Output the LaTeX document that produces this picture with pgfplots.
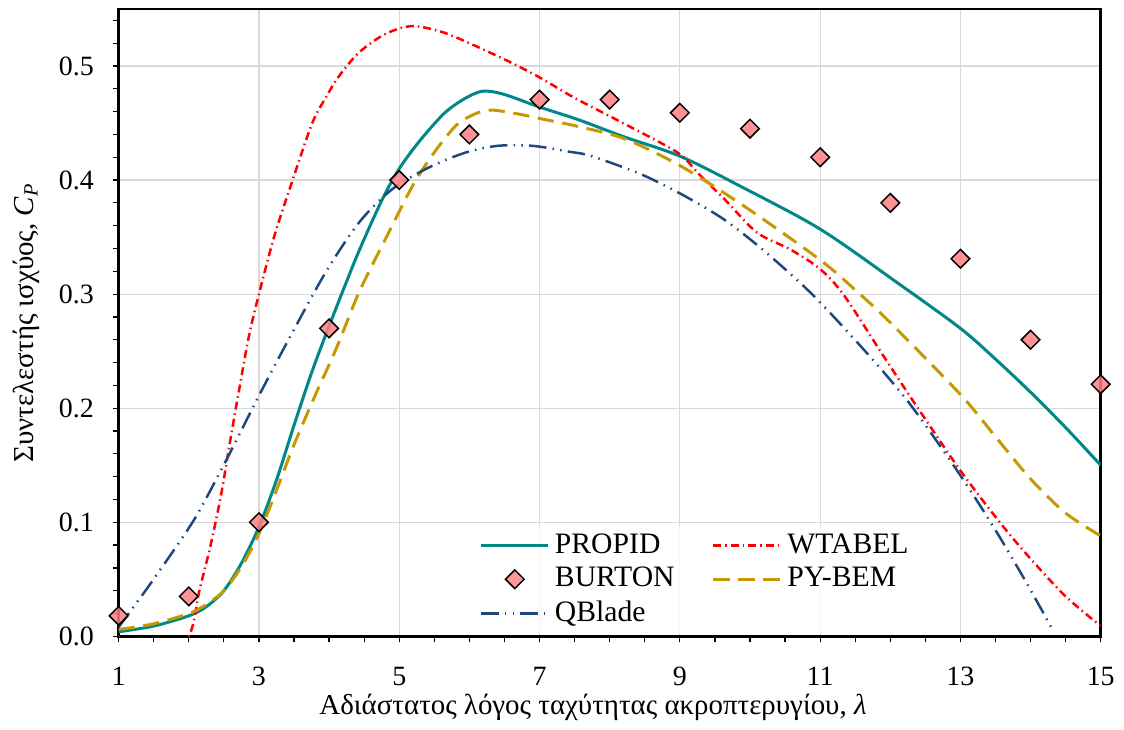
\documentclass[border=0pt]{standalone}
\usepackage{fontspec}
\setmainfont{Liberation Serif}
\usepackage{pgfplots}
\pgfplotsset{compat=1.18}
\definecolor{cteal}{RGB}{0,135,135}
\definecolor{cgold}{RGB}{199,152,0}
\definecolor{cblue}{RGB}{31,73,125}
\definecolor{cpink}{RGB}{255,128,128}
\definecolor{cgrid}{RGB}{217,217,217}
\begin{document}
\fontsize{11.2}{13.4}\selectfont
\begin{tikzpicture}
\begin{axis}[
  scale only axis, width=394pt, height=251.7pt,
  xmin=1, xmax=15, ymin=0, ymax=0.55,
  xtick={1,3,5,7,9,11,13,15},
  ytick={0,0.1,0.2,0.3,0.4,0.5},
  minor xtick={1.5,2,2.5,3.5,4,4.5,5.5,6,6.5,7.5,8,8.5,9.5,10,10.5,11.5,12,12.5,13.5,14,14.5},
  minor ytick={0.02,0.04,0.06,0.08,0.12,0.14,0.16,0.18,0.22,0.24,0.26,0.28,0.32,0.34,0.36,0.38,0.42,0.44,0.46,0.48,0.52,0.54},
  tick align=outside, xtick pos=bottom, ytick pos=left,
  major tick length=2.4pt, minor tick length=2.4pt,
  every tick/.style={black, line width=0.5pt},
  grid=major, major grid style={cgrid, line width=0.5pt},
  axis line style={black, line width=1pt},
  /pgf/number format/assume math mode=true,
  yticklabel style={/pgf/number format/.cd, fixed, fixed zerofill, precision=1, /tikz/.cd, xshift=-3.6pt},
  xticklabel style={yshift=-6pt},
  xlabel={Αδιάστατος λόγος ταχύτητας ακροπτερυγίου, \textit{λ}},
  ylabel={Συντελεστής ισχύος, \textit{C}\textsubscript{\textit{P}}},
  label style={font=\fontsize{11.6}{13.9}\selectfont},
  xlabel style={at={(axis description cs:0.483,-0.124)}, anchor=base},
  ylabel style={at={(axis description cs:-0.087,0.5)}, anchor=base},
  legend columns=2,
  legend cell align=left,
  legend style={at={(axis description cs:0.3645,0.004)}, anchor=south west,
    draw=none, fill=white, fill opacity=0.8, text opacity=1, inner sep=1pt,
    font=\fontsize{11.9}{14}\selectfont,
    /tikz/every even column/.append style={column sep=13pt}},
  legend image code/.code={\draw[mark repeat=2, mark phase=2, #1] plot coordinates {(0cm,0cm) (0.475cm,0cm) (0.95cm,0cm)};},
  clip=true,
]
\addlegendimage{cteal, line width=1.2pt}
\addlegendentry{PROPID}
\addlegendimage{red, line width=1pt, dash pattern=on 3.2pt off 1.6pt on 0.6pt off 1.6pt}
\addlegendentry{WTABEL}
\addlegendimage{only marks, mark=square*, mark size=2.64pt, mark options={rotate=45, fill=cpink, draw=black, line width=0.6pt}}
\addlegendentry{BURTON}
\addlegendimage{cgold, line width=1.2pt, dash pattern=on 6.5pt off 3.5pt}
\addlegendentry{PY-BEM}
\addlegendimage{cblue, line width=1pt, dash pattern=on 7pt off 2.5pt on 0.6pt off 2.5pt on 0.6pt off 2.5pt}
\addlegendentry{QBlade}

% PROPID
\addplot[forget plot, cteal, line width=1.2pt, smooth] coordinates {
(1,0.004)(1.5,0.009)(2,0.018)(2.25,0.026)(2.5,0.040)(2.75,0.064)(3,0.096)(3.25,0.137)(3.5,0.185)(3.75,0.231)(4,0.272)(4.4,0.334)(4.75,0.382)(5,0.410)(5.3,0.435)(5.65,0.459)(5.95,0.472)(6.2,0.478)(6.5,0.475)(7,0.464)(7.55,0.453)(8.2,0.438)(9,0.421)(9.85,0.395)(11,0.357)(12.1,0.31)(13,0.27)(13.5,0.243)(14,0.214)(14.5,0.183)(15,0.150)
};
% WTABEL
\addplot[forget plot, red, line width=1pt, dash pattern=on 3.2pt off 1.6pt on 0.6pt off 1.6pt, smooth] coordinates {
(1,0.0)(1.5,-0.04)(2,0.0)(2.15,0.04)(2.3,0.077)(2.46,0.124)(2.6,0.175)(2.72,0.217)(2.86,0.264)(3,0.30)(3.22,0.351)(3.48,0.40)(3.76,0.45)(3.95,0.472)(4.14,0.491)(4.43,0.512)(4.8,0.528)(5.18,0.535)(5.6,0.53)(6,0.52)(6.56,0.504)(7,0.49)(7.5,0.472)(8.22,0.449)(8.97,0.424)(9.26,0.406)(9.64,0.383)(10.1,0.354)(10.58,0.339)(11.0,0.322)(11.34,0.299)(11.9,0.246)(12.34,0.205)(12.98,0.147)(13.56,0.100)(14,0.068)(14.5,0.035)(15,0.009)
};
% PY-BEM
\addplot[forget plot, cgold, line width=1.2pt, dash pattern=on 6.5pt off 3.5pt, smooth] coordinates {
(1,0.006)(1.5,0.011)(2,0.02)(2.25,0.028)(2.5,0.040)(2.75,0.061)(3,0.09)(3.25,0.128)(3.5,0.168)(3.8,0.211)(4.1,0.252)(4.43,0.302)(4.85,0.354)(5.2,0.396)(5.52,0.426)(5.85,0.45)(6.23,0.461)(6.6,0.459)(7.08,0.453)(7.55,0.447)(8.22,0.436)(9.02,0.412)(9.92,0.377)(11,0.330)(11.53,0.302)(12,0.275)(13,0.212)(13.5,0.175)(14,0.138)(14.5,0.108)(15,0.088)
};
% QBlade
\addplot[forget plot, cblue, line width=1pt, dash pattern=on 7pt off 2.5pt on 0.6pt off 2.5pt on 0.6pt off 2.5pt, smooth] coordinates {
(1,0.008)(1.25,0.029)(1.44,0.045)(1.87,0.083)(2.15,0.11)(2.58,0.16)(3,0.211)(3.43,0.261)(3.95,0.319)(4.43,0.363)(4.9,0.392)(5.42,0.411)(5.94,0.424)(6.4,0.43)(6.9,0.43)(7.41,0.425)(7.74,0.421)(8.45,0.405)(9.07,0.386)(9.64,0.365)(10.2,0.338)(10.9,0.299)(11.7,0.246)(12.3,0.202)(13.0,0.141)(13.5,0.093)(13.95,0.046)(14.33,0.004)
};
% BURTON
\addplot[forget plot, only marks, mark=square*, mark size=2.64pt, mark options={rotate=45, fill=cpink, fill opacity=0.85, draw=black, line width=0.6pt}] coordinates {
(1,0.018)(2,0.035)(3,0.1)(4,0.27)(5,0.40)(6,0.44)(7,0.4705)(8,0.4705)(9,0.459)(10,0.445)(11,0.42)(12,0.38)(13,0.331)(14,0.26)(15,0.221)
};
\end{axis}
\path ([xshift=-47.6pt,yshift=-30pt]current axis.south west) rectangle ([xshift=8pt,yshift=3.6pt]current axis.north east);
\end{tikzpicture}
\end{document}
